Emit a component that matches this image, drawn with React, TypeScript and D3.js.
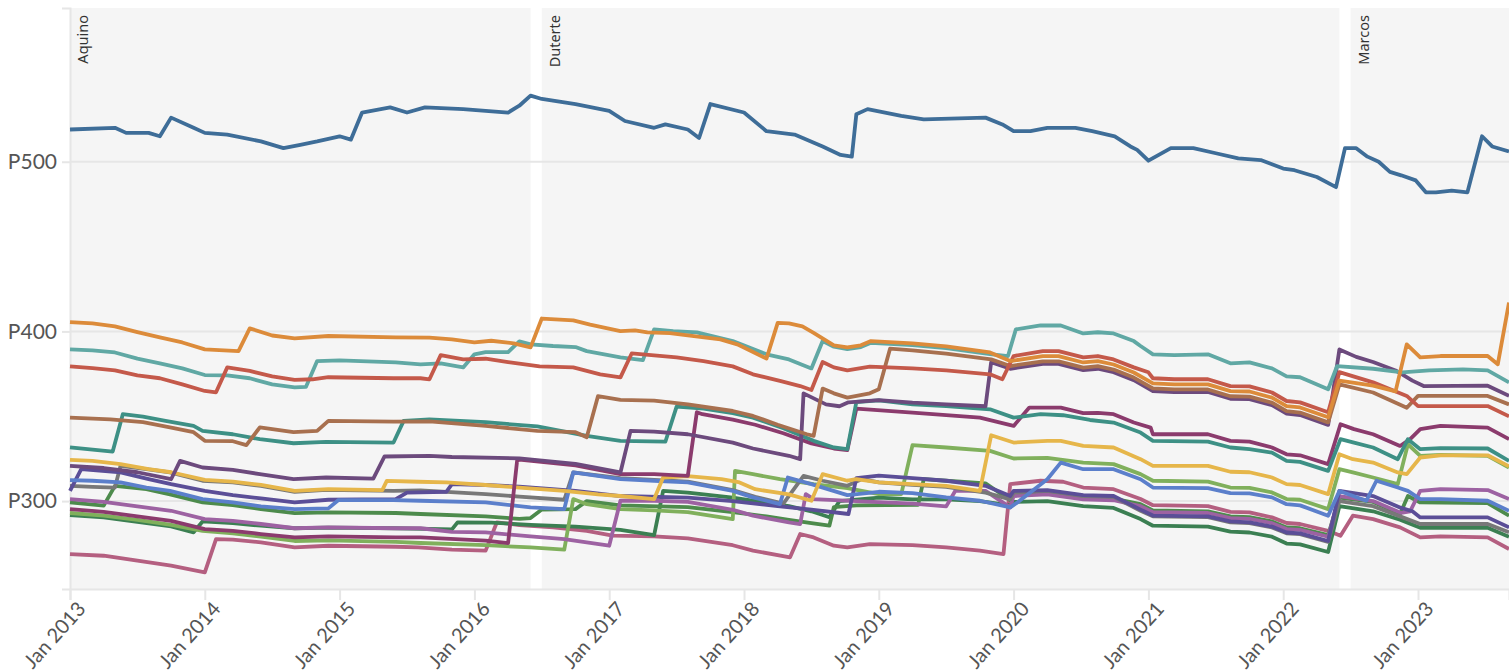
import React, { useEffect, useRef } from 'react';
import * as d3 from 'd3';

// month index: 0 = Jan 2013
const terms = [
  { name: 'Aquino', start: 0, end: 41 },
  { name: 'Duterte', start: 42, end: 113 },
  { name: 'Marcos', start: 114, end: 130 },
];

const yTicks = [300, 400, 500];
const xTicks = [0, 12, 24, 36, 48, 60, 72, 84, 96, 108, 120];

const ncr = [[0,519],[4,520],[5,517],[7,517],[8,515],[9,526],[11,520],[12,517],[14,516],[17,512],[19,508],[20.5,510],[22,512],[24,515],[25,513],[26,529],[28.5,532],[30,529],[31.6,532],[35,531],[39,529],[40,533],[41,539],[42,537],[45,534],[48,530],[49.4,524],[52,520],[53,522],[55,519],[56,514],[57,534],[60,529],[62,518],[64.5,516],[67,509],[68.6,504],[69.6,503],[70,528],[71,531],[74,527],[76,525],[81.5,526],[83,522],[84,518],[85.5,518],[87,520],[89.5,520],[91,518],[93,515],[94.4,509],[95,507],[96,500.6],[98,508],[100,508],[102,505],[104,502],[106,501],[108,496],[109,495],[111,491],[112.7,485],[113.5,508],[114.5,508],[115.5,503],[116.5,500],[117.5,494],[118.5,492],[119.8,489],[120.7,482],[121.6,482],[123,483],[124.4,482],[125.7,515],[126.6,509],[128.1,506]];

const orange = [[0,405.5],[2,404.7],[4,403],[6,399.6],[8,396.5],[10,393.5],[12,389.4],[15,388.4],[16,401.8],[18,397.6],[20,395.9],[23,397.3],[29,396.5],[32,396.3],[34,395.3],[36,393.5],[37.5,394.5],[39.5,393],[41,390.6],[42,407.6],[44.8,406.5],[46.3,404],[49,400.2],[50.3,400.6],[51.4,399.4],[53.4,399],[55,397.6],[57.9,395.3],[59.4,392.4],[62,384],[63,405],[64,404.7],[65.2,403],[66.2,399.2],[68,391.8],[69.2,390.6],[70.4,391.8],[71.3,394.3],[75,393],[78,391.2],[81.9,387.6],[83.7,382.5],[86.6,385.4],[88,385.4],[90.2,381.7],[91.5,382.5],[92.9,380.5],[94.7,375.8],[96.4,369.4],[98.3,368.8],[101.3,368.8],[103.3,364.8],[105,364.6],[107,361],[108.3,356],[109.5,355.2],[112,349.4],[113,371],[116,368],[118,364.7],[119,392.4],[120.2,384.7],[122,385.5],[126.2,385.5],[127.1,380.6],[128.1,417]];

const tealLight = [[0,389.4],[2,388.8],[4,387.6],[6,384],[8,381.2],[10,378.2],[12,374.3],[14,374.1],[16,372.4],[18,368.8],[20,367],[21,367.3],[22,382.5],[24,382.9],[29,381.8],[31.2,380.6],[33,381.2],[35,378.8],[36,386.5],[37,387.8],[39,387.8],[40,394.1],[41,392.4],[43,391.4],[45,390.8],[46,388.4],[49,384.7],[51,383.1],[52,401.2],[53.7,400.2],[55.8,399.4],[59,394.3],[62,386.5],[64,383.5],[66,378.2],[67,394.3],[68,391],[69.2,389.6],[70.4,390.8],[71.3,393.3],[75,392],[78,390.2],[81.9,386.6],[83.5,385.5],[84.2,401.2],[86.4,403.5],[88.2,403.5],[90.2,398.8],[91.5,399.5],[92.9,398.8],[94.7,394.3],[95.3,391.4],[96.4,386.5],[98.3,386],[101.3,386.5],[103.3,381.2],[105,381.8],[107,378.2],[108.3,373.5],[109.5,373],[112,365.9],[112.8,379.6],[116,378],[118.6,375.9],[121,377],[124,377.6],[126.2,377],[128.1,370]];

const red = [[0,379.4],[2,378.4],[4,377.1],[6,374.1],[8,372.4],[10,368.8],[12,364.9],[13,364.1],[14,378.8],[16,376.7],[18,373.5],[20,371.4],[21.6,371.8],[23,373],[28.8,372.4],[31.2,372.4],[32,371.8],[33,386],[35,383.5],[37,383.9],[39,381.9],[41.8,379.4],[44.8,378.8],[47.2,374.7],[49,372.9],[50,387],[52,385.9],[54,384.7],[56.4,382.5],[59,379.4],[60.8,374.7],[63.2,370.8],[65,367.8],[66,365.5],[67,382],[68,378.8],[69.2,377.1],[71.2,379.2],[75,378.2],[78,377.1],[81.9,374.7],[83,371.8],[84,385.5],[86.6,388.4],[88,388.4],[90.2,384.7],[91.5,385.5],[92.9,383.5],[94.7,378.8],[96,375.9],[96.4,372.4],[98.3,371.8],[101.3,371.8],[103.3,367.8],[105,367.6],[107,364],[108.3,359],[109.5,358.2],[112,352.4],[113,376],[116,370],[119,362],[120,356],[126.2,356],[128.1,350]];

const brown = [[0,349.2],[3.6,348.2],[6.5,346.5],[8.9,343.5],[11,340.6],[12,335.5],[14.5,335.3],[15.7,333],[16.9,343.5],[19.9,340.6],[22,341.4],[23,347.3],[28.8,346.8],[32,347],[37,344.3],[41.6,341.4],[45,340.6],[46,337.6],[47,361.8],[49,359.6],[52,359.2],[55,357],[59,353.1],[60.8,350.2],[63,345],[65.6,339.4],[66.2,338.5],[67,366.3],[68,363.5],[69.2,361],[71.2,363.5],[72,365.9],[73,389.8],[75,388.8],[78,386.9],[82,383.5],[83.7,379.6],[86.6,382.4],[88,382.4],[90.2,378.7],[91.5,379.5],[92.9,377.5],[94.7,372.8],[96.4,366.4],[98.3,365.8],[101.3,365.8],[103.3,361.8],[105,361.6],[107,358],[108.3,353],[109.5,352.2],[112,346.4],[113,368.8],[116,364],[119,355],[120,362],[126.2,362],[128.1,357]];

const tealDark = [[0,331.6],[3.8,329.2],[4.7,351.2],[6.5,349.8],[8.5,347.3],[11,344.3],[11.8,341.4],[14.5,339.4],[16.9,336.5],[19.9,334.1],[22.8,334.9],[28.8,334.5],[29.7,347.3],[32,348.2],[37,346.5],[41.6,344],[46,338.4],[49,335.5],[53,335],[54,355.7],[56.4,354.5],[59,351.8],[60.8,349.2],[63.5,343],[66.2,335.5],[68,331.6],[69.2,330.6],[70,358.4],[72,359.4],[75,357],[78,356],[81.9,354.1],[84,349.2],[86.4,351.2],[88.4,350.6],[90.8,347.8],[92.9,346.3],[95.3,340.4],[96.4,335.5],[101.3,335],[103.3,331.6],[105,330.6],[107,328.6],[108.3,323.7],[109.5,323.1],[112,317.8],[113.1,336.5],[114.3,334.5],[116,331.6],[118.2,324.7],[119.1,336.5],[120.2,330.6],[122,331.2],[126.2,331],[128.1,323.7]];

const maroon = [[0,295.3],[3,293.7],[6,291],[9,288.4],[12,283.5],[14.5,282.5],[17,280.6],[20,278.6],[23,279.2],[29,278.6],[31.2,278.6],[37,276.7],[39,275.3],[39.8,323.7],[40,324.5],[45,321],[49,315.9],[52,315.9],[55,314.9],[55.8,352.4],[56.3,351.2],[59,348],[61,345],[63.5,340],[66,334],[68,331],[69.2,330],[70,354.5],[75,352.2],[81,349.2],[84,344.3],[85.4,355.1],[88.2,355.1],[90.2,351.8],[91.5,352],[92.9,351.2],[94.7,346.3],[96.2,343.3],[96.4,339.4],[101.3,339.4],[103.3,335.5],[105,335],[107,331.6],[108.3,327.6],[109.5,327],[112,321.8],[113.1,345.3],[114.3,342.4],[116,339.4],[118.4,332.5],[119.3,336.5],[120.2,342.4],[122,344.3],[126.2,343.3],[128.1,336.5]];

const darkPurple = [[0,320.8],[3,319.5],[6,317],[9,312.9],[9.8,323.7],[11.8,319.8],[14.5,318.4],[16.9,315.9],[19.9,312.9],[22.8,313.9],[27,313.3],[28,326.3],[32,326.7],[34,326],[40,325.2],[45,322],[49,316.9],[49.9,341.4],[52,341],[55,339.4],[59,334.5],[60.8,331],[64,326.7],[65,324.7],[65.3,363.5],[67.3,357],[68.5,355.9],[69.3,358.2],[72,359.5],[75,358],[78,357],[81.5,355.9],[82,381.8],[83.7,378],[86.6,380.9],[88,380.9],[90.2,377.2],[91.5,378],[92.9,376],[94.7,371.3],[96.4,364.9],[98.3,364.3],[101.3,364.3],[103.3,360.3],[105,360.1],[107,356.5],[108.3,351.5],[109.5,350.7],[112,344.9],[113,389.4],[114.5,385],[116,382],[118,377],[119.5,371],[120.5,367.8],[126.2,368],[128.1,362]];

const yellow = [[0,324.3],[2,323.7],[4.5,321.8],[7,318.8],[9,317],[12,312.5],[14.5,311.5],[17,309.5],[20,306],[23,307],[27.8,306.5],[28.2,311.9],[31,311.4],[33.5,311],[37,309.5],[40,308],[44,306],[47,304],[49,303],[52,301.2],[52.8,313.9],[55,314.7],[58,312.9],[59.5,311.2],[61,307],[64,304],[66,300.2],[67,315.9],[69.2,312],[70,313],[72,311],[75,310],[78,309],[81,306],[82,338.8],[84,334.5],[87,335.5],[88.2,335.5],[90.2,332.5],[92.9,331.6],[95.3,324.7],[96.4,320.8],[101.3,320.8],[103.3,317.3],[105,317],[107,313.9],[108.3,310],[109.5,309.5],[112,304.1],[113,327.6],[114.2,324.7],[116,322.7],[118.2,316.9],[119,315.9],[120.2,325.7],[122,327],[126.2,327],[128.1,320.5]];

const gray = [[0,309],[2,308.4],[4,308],[4.5,320.8],[6.8,318.8],[8.9,316.9],[11.8,312],[14.5,311],[17,309],[20,305.5],[22.8,306.6],[28.8,306],[31.2,306.3],[37,304.1],[40,302.7],[44,300.8],[44.8,316.9],[49,313.5],[55,311.5],[59,306.5],[61,302.5],[63.5,298.5],[65.3,314.9],[67,312],[69.2,309],[70.5,313],[72,311],[75,309.6],[78,308.4],[81.5,305],[83.7,301],[84,305],[87,306],[90.2,303],[92.9,302.5],[95.3,294.3],[96.4,291],[101.3,290.5],[103.3,287.5],[105,287],[107,284.5],[108.3,281],[109.5,280.5],[112,276],[113,300],[116,297],[118.4,291],[120.2,286.5],[126.2,286.5],[128.1,281.6]];

const indigo = [[0,306],[1,318.8],[4.5,316.9],[7,313],[9,310],[12,306],[14.5,303.5],[17,301.6],[20,299.2],[23,300.8],[29,301.2],[30,305],[33.5,305.5],[34,310],[37,309.5],[40,308.5],[45,306],[49,303],[55,302],[59,300],[63,297],[66,295],[69.3,292.4],[70,313.5],[72,315],[75,313.5],[78,312],[81.5,309],[83.7,303],[84,306],[87,306.5],[90.2,303.5],[92.9,303],[95.3,295],[96.4,291.5],[101.3,291],[103.3,288],[105,287.5],[107,285],[108.3,281.5],[109.5,281],[112,276.5],[113,306],[116,303],[118.5,296],[119.5,294],[120.2,290.4],[126.2,290.4],[128.1,284.5]];

const blue = [[0,312.4],[2,312],[4.5,311],[6.8,308],[8.9,306],[11.8,301.2],[14.5,299.2],[17,296.9],[20,295.3],[23,295.7],[23.9,300.6],[28.8,300.6],[31.2,300.2],[37,299.2],[41,296.3],[44,295.3],[44.8,316.9],[49,312.9],[52,312],[55,311],[59,306],[60.8,302.2],[63.2,298.2],[63.9,313.9],[66,310],[69.2,303.5],[72,305.5],[75,304.7],[78,302.2],[81,300.2],[83.7,296.3],[84.5,300],[87,312.9],[88.2,322.7],[90.2,318.8],[92.9,318.8],[95.3,312.9],[96.4,308],[101.3,307.6],[103.3,304.7],[105,304.5],[107,302.2],[108.3,298.2],[109.5,297.5],[112,291.4],[113,306],[115.4,300.2],[116.3,312],[118.2,308],[119.1,306],[120.2,301.2],[122,301.2],[126.2,300.2],[128.1,294.3]];

const green = [[0,299.2],[3,297.3],[4,309],[6.8,307],[8.9,304],[11.8,299.2],[14.5,297.6],[17,295.3],[20,292.9],[23,293.3],[29,293],[31.2,292.4],[37,291],[40,289.5],[41,290],[42,295],[45,295.3],[46,300],[49,297.5],[55,296.5],[59,293.5],[62,291],[64,289],[66,287],[67.6,285.5],[68,296.5],[70,297.5],[75.5,297.8],[76,312.9],[78,312],[81.5,310.5],[83.7,300.5],[84,304],[87,305],[90.2,302],[92.9,301.5],[95.3,298.2],[96.4,294.5],[101.3,294],[103.3,291],[105,290.5],[107,288],[108.3,284.5],[109.5,284],[112,280],[113,302],[116,299.5],[118.4,292.4],[119.1,303],[120.2,299.2],[126.2,298.8],[128.1,291.4]];

const lightPurple = [[0,301.2],[3,299.6],[6,296.9],[9,294.3],[12,289.4],[14.5,288.4],[17,286.5],[20,284],[23,284.5],[29,284],[31.2,284],[34,281.9],[37,281.6],[41,279.2],[44,277.6],[48,273.7],[49,300.2],[52,300.2],[55,299.6],[59,294.9],[60.8,291.4],[64,287.5],[65,286.5],[65.5,304.1],[66.2,301.2],[70,300],[75,298.5],[78,296.9],[78.8,306],[81.5,306],[83.7,296.3],[84,303],[87,304],[90.2,301],[92.9,300.5],[95.3,297],[96.4,293.5],[101.3,293],[103.3,290],[105,289.5],[107,287],[108.3,283.5],[109.5,283],[112,279],[113,303],[116,300],[118.5,293],[119.3,294],[120.2,306],[122,307],[126.2,306.5],[128.1,301.2]];

const lightGreen = [[0,293],[3,291.5],[6,289],[9,286],[11.8,282.5],[14.5,281],[17,279],[20,276.5],[23,276.8],[29,276],[31.2,275.3],[37,274],[41,272.7],[44,271.4],[44.8,301.2],[46,298.2],[49,295.3],[52,294.5],[55,293.5],[59,289.4],[59.2,317.8],[60.8,315.9],[63.2,312.9],[66.2,310],[69.2,307.6],[72,304.1],[74,304.1],[75,333],[78,331.6],[81.9,329.6],[84,325.1],[87,325.5],[90.2,322.7],[92.9,321.8],[95.3,315.9],[96.4,312],[101.3,311.5],[103.3,308],[105,307.8],[107,305.1],[108.3,301.2],[109.5,300.8],[112,295.3],[113,318.8],[114.2,316.9],[116,313.9],[118.2,310],[119.1,333.5],[120.2,326.7],[122,327.3],[126.2,326.7],[128.1,319.8]];

const darkGreen = [[0,291.8],[3,290.4],[6,287.8],[9,285.1],[11,281.6],[11.8,288],[14.5,287],[17,285.5],[20,284],[23,284.4],[29,284],[34,283.3],[34.5,287.5],[37.5,287.3],[41,286],[45,285],[49,283],[52,280],[52.8,306],[55,305],[59,302],[62,299],[64,297],[66,294],[67.6,290.5],[68.5,300],[72,302],[75,301],[78,301],[81,300],[83.7,297.5],[84,299.5],[87,300],[90.2,297],[92.9,296],[95.3,289.4],[96.4,285.5],[101.3,285],[103.3,282],[105,281.5],[107,279],[108.3,275],[109.5,274.5],[112,270],[113,297],[116,294],[118.4,289],[120.2,284.3],[126.2,284.3],[128.1,279]];

const pink = [[0,268.8],[3,267.8],[6,264.9],[9,262],[12,258],[13,277.6],[14.5,277.3],[17,275.7],[20,272.7],[23,273.7],[29,273.1],[31,272.7],[34,271.4],[37,270.8],[38,287.5],[40,285.9],[43,284.5],[46,282.5],[48.3,279.6],[52,279.2],[55,278],[59,274],[60.8,270.8],[64.1,266.9],[65,280.6],[66.2,278.6],[68,273.7],[69.2,272.7],[71.2,274.7],[75,274.1],[78,272.7],[81,270.8],[83.1,268.8],[83.7,310],[86.4,312],[88.4,311.4],[90.2,308],[92.9,307],[95.3,301.2],[96.4,297.6],[101.3,297],[103.3,293.7],[105,293.4],[107,290.4],[108.3,287.1],[109.5,286.5],[112,282.5],[113.1,279.6],[114.2,291.4],[116,289.4],[118.4,284.5],[120.2,278.6],[122,279.2],[126.2,278.6],[128.1,271.8]];

// draw order: first = bottom
const series = [
  { values: pink, color: '#b45f80' },
  { values: darkGreen, color: '#3b7f52' },
  { values: green, color: '#4d8b4c' },
  { values: lightGreen, color: '#80b05c' },
  { values: lightPurple, color: '#9d62a2' },
  { values: gray, color: '#787878' },
  { values: indigo, color: '#5b4e97' },
  { values: blue, color: '#5b7fcb' },
  { values: yellow, color: '#e6b64a' },
  { values: maroon, color: '#8b3b6d' },
  { values: tealDark, color: '#3d9085' },
  { values: darkPurple, color: '#6c4a7d' },
  { values: brown, color: '#a8704f' },
  { values: tealLight, color: '#60a8a4' },
  { values: red, color: '#c4594a' },
  { values: orange, color: '#dc8b3a' },
  { values: ncr, color: '#3e6d98' },
];

const App = () => {
  const ref = useRef<SVGSVGElement>(null);

  useEffect(() => {
    if (!ref.current) return;
    const width = 1509;
    const height = 671;
    const left = 70;
    const top = 8;
    const bottom = 589;

    const svg = d3.select(ref.current);
    svg.selectAll('*').remove();

    const x = d3.scaleLinear().domain([0, 128.1]).range([left, width]);
    const y = d3.scaleLinear().domain([248.2, 590.6]).range([bottom, top]);

    svg.append('g')
      .selectAll('rect')
      .data(terms)
      .join('rect')
      .attr('x', d => x(d.start))
      .attr('y', top)
      .attr('width', d => Math.min(x(d.end), width) - x(d.start))
      .attr('height', bottom - top)
      .attr('fill', '#f5f5f5');

    svg.append('g')
      .selectAll('text')
      .data(terms)
      .join('text')
      .attr('transform', d => `translate(${x(d.start) + 18},15) rotate(-90)`)
      .attr('text-anchor', 'end')
      .attr('font-size', 14.5)
      .attr('fill', '#333')
      .text(d => d.name);

    // y grid + labels
    const yAxis = svg.append('g')
      .attr('transform', `translate(${left},0)`)
      .call(d3.axisLeft(y).tickValues(yTicks).tickSize(8).tickPadding(5).tickFormat(d => `P${d}`));
    yAxis.select('.domain').attr('stroke', '#e6e6e6').attr('stroke-width', 2);
    yAxis.selectAll('.tick line').attr('stroke', '#e6e6e6').attr('stroke-width', 2);
    yAxis.selectAll('.tick text').attr('font-size', 21).attr('fill', '#555').attr('font-family', 'Lato, sans-serif');
    svg.append('g')
      .selectAll('line')
      .data(yTicks)
      .join('line')
      .attr('x1', left)
      .attr('x2', width)
      .attr('y1', d => y(d))
      .attr('y2', d => y(d))
      .attr('stroke', '#e6e6e6')
      .attr('stroke-width', 2);

    const xAxis = svg.append('g')
      .attr('transform', `translate(0,${bottom})`)
      .call(d3.axisBottom(x).tickValues(xTicks).tickSize(11).tickPadding(4).tickFormat(d => `Jan ${2013 + (d as number) / 12}`));
    xAxis.select('.domain').attr('stroke', '#e6e6e6').attr('stroke-width', 2);
    xAxis.selectAll('.tick line').attr('stroke', '#e6e6e6').attr('stroke-width', 2);
    xAxis.selectAll('.tick text')
      .attr('font-size', 20)
      .attr('fill', '#555')
      .attr('font-family', 'Lato, sans-serif')
      .attr('text-anchor', 'end')
      .attr('dy', '0.35em')
      .attr('transform', 'translate(0,6) rotate(-48)');

    const line = d3.line<number[]>()
      .x(d => x(d[0]))
      .y(d => y(d[1]));

    svg.append('g')
      .selectAll('path')
      .data(series)
      .join('path')
      .attr('d', d => line(d.values))
      .attr('fill', 'none')
      .attr('stroke', d => d.color)
      .attr('stroke-width', 3.8)
      .attr('stroke-linejoin', 'round');
  }, []);

  return (
    <svg
      ref={ref}
      width={1509}
      height={671}
      style={{ position: 'absolute', left: 0, top: 0, fontFamily: "'Noto Sans', sans-serif" }}
    />
  );
};

export default App;
